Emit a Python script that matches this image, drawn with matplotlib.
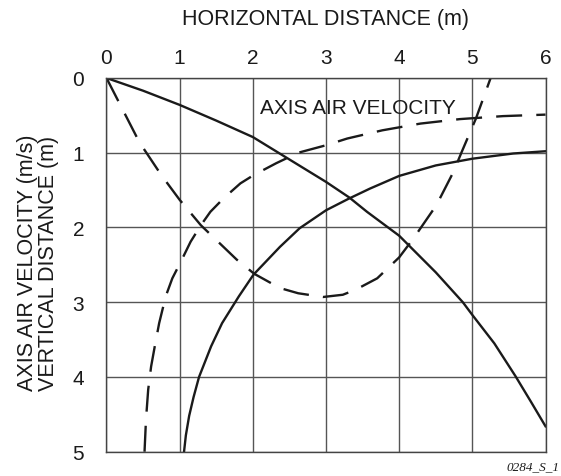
import matplotlib
matplotlib.use("Agg")
import matplotlib.pyplot as plt

plt.rcParams['font.family'] = ['Liberation Sans', 'DejaVu Sans']

# Solid trajectory (vertical distance)
traj_solid_x = [0, 0.5, 1, 1.5, 2, 2.35, 3, 3.32, 3.56, 4, 4.5, 4.87, 5, 5.3, 5.59, 5.8, 6]
traj_solid_y = [0, 0.17, 0.36, 0.57, 0.79, 1.0, 1.39, 1.60, 1.79, 2.11, 2.6, 3.0, 3.17, 3.55, 3.99, 4.33, 4.66]

# Dashed trajectory
traj_dash_x = [0, 0.45, 0.75, 1.0, 1.29, 1.78, 2.02, 2.37, 2.62, 2.96, 3.23, 3.41, 3.70, 4.0, 4.20, 4.51, 4.74, 4.85, 5.05, 5.25]
traj_dash_y = [0, 0.86, 1.30, 1.63, 1.97, 2.43, 2.62, 2.81, 2.88, 2.93, 2.90, 2.83, 2.68, 2.40, 2.14, 1.70, 1.26, 1.0, 0.54, 0.0]

# Dashed axis air velocity
vel_dash_x = [0.52, 0.54, 0.57, 0.61, 0.66, 0.72, 0.81, 0.90, 1.02, 1.15, 1.29, 1.42, 1.60, 1.83, 2.01, 2.32, 2.62, 3.0, 3.29, 3.77, 4.29, 4.83, 5.42, 6.0]
vel_dash_y = [5.0, 4.57, 4.17, 3.86, 3.59, 3.28, 2.92, 2.68, 2.45, 2.19, 1.97, 1.79, 1.61, 1.41, 1.30, 1.14, 1.0, 0.90, 0.81, 0.70, 0.61, 0.55, 0.51, 0.49]

# Solid axis air velocity
vel_solid_x = [1.06, 1.085, 1.13, 1.19, 1.265, 1.43, 1.58, 1.81, 2.01, 2.37, 2.64, 3.0, 3.3, 3.6, 4.0, 4.5, 5.0, 5.56, 6.0]
vel_solid_y = [5.0, 4.78, 4.52, 4.27, 4.0, 3.59, 3.28, 2.92, 2.63, 2.26, 2.01, 1.77, 1.62, 1.48, 1.31, 1.17, 1.08, 1.01, 0.98]

x_ticks = [0, 1, 2, 3, 4, 5, 6]
y_ticks = [0, 1, 2, 3, 4, 5]

fig = plt.figure(figsize=(5.61, 4.77), dpi=100)
ax = fig.add_axes([0.1898, 0.0509, 0.7826, 0.7835])

ax.set_xlim(0, 6)
ax.set_ylim(5, 0)
ax.set_xticks(x_ticks)
ax.set_yticks(y_ticks)
ax.xaxis.tick_top()
ax.xaxis.set_label_position('top')
ax.tick_params(axis='both', length=0, labelsize=15, labelcolor='#1a1a1a')
ax.tick_params(axis='x', pad=8)
ax.tick_params(axis='y', pad=16)
ax.grid(True, color='#555555', linewidth=1.0)
for s in ax.spines.values():
    s.set_color('#444444')
    s.set_linewidth(1.0)

lw = 1.7
ax.plot(traj_solid_x, traj_solid_y, color='#1a1a1a', lw=lw, solid_joinstyle='round')
ax.plot(traj_dash_x, traj_dash_y, color='#1a1a1a', lw=lw, dashes=[11, 6])
ax.plot(vel_dash_x, vel_dash_y, color='#1a1a1a', lw=lw, dashes=[11, 6])
ax.plot(vel_solid_x, vel_solid_y, color='#1a1a1a', lw=lw, solid_joinstyle='round')

ax.text(2.1, 0.39, 'AXIS AIR VELOCITY', fontsize=15, va='center', ha='left', color='#1a1a1a')

ax.set_xlabel('HORIZONTAL DISTANCE (m)', fontsize=15.5, labelpad=17, color='#1a1a1a')
fig.text(38/561, 1 - 263/477, 'AXIS AIR VELOCITY (m/s)\nVERTICAL DISTANCE (m)',
         rotation=90, ha='center', va='center', multialignment='center',
         fontsize=15.5, linespacing=1.0, color='#1a1a1a')
fig.text(559/561, 1 - 467/477, '0284_S_1', ha='right', va='center', fontsize=9.5,
         family=['Liberation Serif'], style='italic', color='#1a1a1a')

fig.savefig('out.png', dpi=100)
